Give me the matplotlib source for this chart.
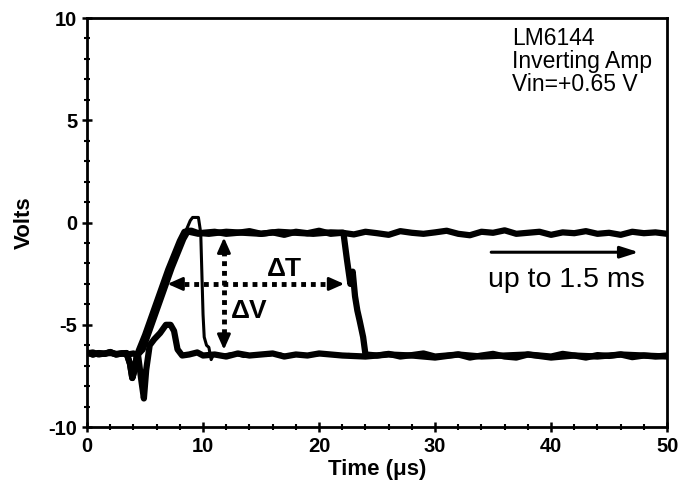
import numpy as np
import matplotlib
matplotlib.use("Agg")
import matplotlib.pyplot as plt
from matplotlib.ticker import MultipleLocator

plt.rcParams['font.family'] = ['Liberation Sans', 'DejaVu Sans']
plt.rcParams['axes.unicode_minus'] = False

# common start of the output traces (us, V)
t_start = [0, 0.5, 1.0, 1.5, 2.0, 2.5, 3.0, 3.4, 3.7, 3.9, 4.1, 4.3]
v_start = [-6.35, -6.45, -6.38, -6.42, -6.33, -6.45, -6.4, -6.38, -6.9, -7.6, -7.2, -6.5]

# rising edge, two slightly offset sweeps
t_rise_a = [4.5, 5.0, 5.5, 6.0, 6.5, 7.0, 7.5, 8.0, 8.4]
v_rise_a = [-6.2, -5.5, -4.7, -3.9, -3.1, -2.3, -1.6, -0.9, -0.45]
t_rise_b = [4.8, 5.3, 5.8, 6.3, 6.8, 7.3, 7.8, 8.3, 8.7]
v_rise_b = [-6.2, -5.4, -4.6, -3.8, -3.0, -2.2, -1.5, -0.8, -0.4]

# trace that stays high (up to 1.5 ms)
t_latch = [8.8, 9.2, 9.6, 10, 11, 12, 13, 14, 15, 16, 17, 18, 19, 20, 21, 22, 23, 24, 25, 26, 27, 28, 29, 30,
           31, 32, 33, 34, 35, 36, 37, 38, 39, 40, 41, 42, 43, 44, 45, 46, 47, 48, 49, 50]
v_latch = [-0.45, -0.5, -0.55, -0.5, -0.45, -0.55, -0.5, -0.42, -0.55, -0.48, -0.6, -0.45, -0.52, -0.4, -0.55, -0.5,
           -0.58, -0.45, -0.52, -0.6, -0.42, -0.5, -0.55, -0.48, -0.4, -0.55, -0.62, -0.45, -0.5, -0.38, -0.55, -0.5,
           -0.45, -0.6, -0.48, -0.52, -0.42, -0.55, -0.5, -0.6, -0.45, -0.52, -0.48, -0.55]

# trace that recovers at ~22 us
t_22 = [9.0, 9.5, 10.5, 12, 13.5, 15, 16.5, 18, 19.5, 21, 22.1, 22.4, 22.7, 22.9, 23.1, 23.3, 23.5, 23.8, 24.0,
        25, 26, 27, 28, 29, 30, 31, 32, 33, 34, 35, 36, 37, 38, 39, 40, 41, 42, 43, 44, 45, 46, 47, 48, 49, 50]
v_22 = [-0.4, -0.5, -0.55, -0.45, -0.5, -0.55, -0.45, -0.5, -0.55, -0.48, -0.5, -1.8, -3.0, -2.4, -3.6, -4.3, -4.8,
        -5.6, -6.45, -6.5, -6.42, -6.55, -6.48, -6.4, -6.55, -6.5, -6.45, -6.6, -6.5, -6.42, -6.55, -6.6, -6.45,
        -6.5, -6.55, -6.42, -6.5, -6.6, -6.48, -6.52, -6.45, -6.58, -6.5, -6.55, -6.5]

# trace that recovers at ~10 us (with overshoot)
t_10 = [8.6, 8.9, 9.1, 9.6, 9.8, 9.9, 10.0, 10.1, 10.3, 10.5, 10.7, 10.9, 11.5, 12.5, 13.5, 14.5, 15.5, 16.5, 17.5,
        18.5, 19.5, 20.5, 21.5, 22.5]
v_10 = [-0.3, 0.1, 0.25, 0.25, -0.5, -2.5, -4.5, -5.6, -6.0, -6.1, -6.7, -6.45, -6.5, -6.4, -6.55, -6.45, -6.5,
        -6.4, -6.55, -6.45, -6.5, -6.42, -6.5, -6.45]

# input-side trace (bottom)
t_low = [0, 0.5, 1.0, 1.5, 2.0, 2.5, 3.0, 3.5, 4.0, 4.4, 4.7, 4.9, 5.1, 5.4, 5.8, 6.3, 6.8, 7.2, 7.5, 7.8, 8.2, 8.8,
         9.5, 10, 11, 12, 13, 14, 15, 16, 17, 18, 19, 20, 22, 24, 26, 28, 30, 32, 34, 36, 38, 40, 42, 44, 46, 48, 50]
v_low = [-6.4, -6.35, -6.45, -6.4, -6.38, -6.42, -6.4, -6.45, -6.4, -6.5, -7.8, -8.6, -7.2, -6.0, -5.7, -5.4, -5.0,
         -5.0, -5.3, -6.2, -6.5, -6.45, -6.35, -6.5, -6.45, -6.55, -6.4, -6.5, -6.45, -6.4, -6.55, -6.45, -6.5,
         -6.4, -6.5, -6.55, -6.45, -6.5, -6.6, -6.45, -6.55, -6.5, -6.45, -6.6, -6.5, -6.55, -6.45, -6.5, -6.55]

x_ticks = [0, 10, 20, 30, 40, 50]
y_ticks = [-10, -5, 0, 5, 10]

fig = plt.figure(figsize=(6.8, 4.87), dpi=100)
ax = fig.add_axes([0.128, 0.123, 0.853, 0.84])

lw = 4.5
ax.plot(t_start + t_rise_a + t_latch, v_start + v_rise_a + v_latch, color='black', lw=lw, solid_joinstyle='round')
ax.plot(t_start + t_rise_b + t_22, v_start + v_rise_b + v_22, color='black', lw=lw, solid_joinstyle='round')
ax.plot(t_start + t_rise_a + t_10, v_start + v_rise_a + v_10, color='black', lw=2.2, solid_joinstyle='round')
ax.plot(t_low, v_low, color='black', lw=lw, solid_joinstyle='round')

head = '-|>,head_length=0.9,head_width=0.4'
# delta V arrow
ax.plot([11.8, 11.8], [-1.4, -5.5], color='black', lw=3.5, linestyle=(0, (1, 1.0)))
ax.annotate('', xy=(11.8, -0.6), xytext=(11.8, -1.4),
            arrowprops=dict(arrowstyle=head, color='black', lw=2))
ax.annotate('', xy=(11.8, -6.35), xytext=(11.8, -5.5),
            arrowprops=dict(arrowstyle=head, color='black', lw=2))
# delta T arrow
ax.plot([8.4, 20.6], [-3.0, -3.0], color='black', lw=3.5, linestyle=(0, (1, 1.0)))
ax.annotate('', xy=(6.7, -3.0), xytext=(8.4, -3.0),
            arrowprops=dict(arrowstyle=head, color='black', lw=2))
ax.annotate('', xy=(22.4, -3.0), xytext=(20.6, -3.0),
            arrowprops=dict(arrowstyle=head, color='black', lw=2))

ax.text(17.0, -2.25, '\u0394T', fontsize=19, fontweight='bold', ha='center', va='center')
ax.text(14.0, -4.3, '\u0394V', fontsize=19, fontweight='bold', ha='center', va='center')

# up to 1.5 ms arrow
ax.annotate('', xy=(47.8, -1.45), xytext=(34.6, -1.45),
            arrowprops=dict(arrowstyle='-|>,head_length=1.1,head_width=0.35', color='black', lw=2.2))
ax.text(41.3, -2.8, 'up to 1.5 ms', fontsize=20.5, ha='center', va='center')

ax.text(36.6, 9.55, 'LM6144\nInverting Amp\nVin=+0.65 V', fontsize=16.5, ha='left', va='top', linespacing=1.0)

ax.set_xlim(0, 50)
ax.set_ylim(-10, 10)
ax.set_xticks(x_ticks)
ax.set_yticks(y_ticks)
ax.xaxis.set_minor_locator(MultipleLocator(2))
ax.yaxis.set_minor_locator(MultipleLocator(1))
ax.tick_params(which='major', direction='inout', length=7, width=1.8, labelsize=14.5)
ax.tick_params(which='minor', direction='inout', length=4, width=1.5)
for lab in ax.get_xticklabels() + ax.get_yticklabels():
    lab.set_fontweight('bold')
for s in ax.spines.values():
    s.set_linewidth(2)

ax.set_xlabel('Time (\u03bcs)', fontsize=16, fontweight='bold', labelpad=2)
ax.set_ylabel('Volts', fontsize=16, fontweight='bold', labelpad=10)

fig.savefig('out.png', dpi=100)
